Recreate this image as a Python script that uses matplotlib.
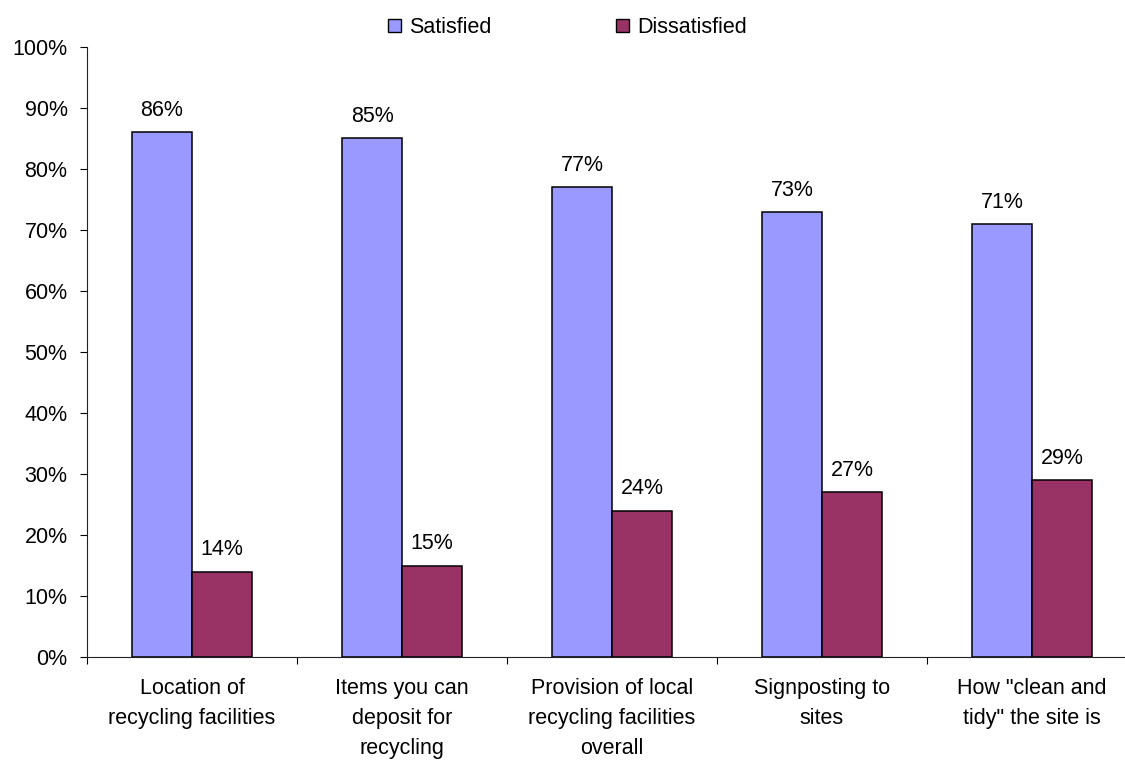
import matplotlib
matplotlib.use("Agg")
import matplotlib.pyplot as plt
from matplotlib.patches import Patch
from matplotlib.ticker import PercentFormatter, FixedLocator

plt.rcParams["font.family"] = ["Liberation Sans", "DejaVu Sans"]
FS = 15.5
plt.rcParams["font.size"] = FS

categories = [
    "Location of\nrecycling facilities",
    "Items you can\ndeposit for\nrecycling",
    "Provision of local\nrecycling facilities\noverall",
    "Signposting to\nsites",
    "How \"clean and\ntidy\" the site is",
]
satisfied = [86, 85, 77, 73, 71]
dissatisfied = [14, 15, 24, 27, 29]
series_names = ["Satisfied", "Dissatisfied"]
colors = ["#9999FF", "#993366"]

W, H = 1125, 760
fig = plt.figure(figsize=(W / 100, H / 100), dpi=100)
ax = fig.add_axes([87 / W, 1 - 657 / H, 1050 / W, (657 - 47) / H])

bw = 0.2857
x = range(len(categories))
for offset, vals, col in ((-bw / 2, satisfied, colors[0]), (bw / 2, dissatisfied, colors[1])):
    xs = [i + offset for i in x]
    ax.bar(xs, vals, width=bw, color=col, edgecolor="black", linewidth=1.1)
    for xi, v in zip(xs, vals):
        ax.annotate(f"{v}%", (xi, v), xytext=(0, 8), textcoords="offset points",
                    ha="center", va="bottom", fontsize=FS)

ax.set_xlim(-0.5, len(categories) - 0.5)
ax.set_ylim(0, 100)
ax.yaxis.set_major_locator(FixedLocator(range(0, 101, 10)))
ax.yaxis.set_major_formatter(PercentFormatter(100, decimals=0))
ax.tick_params(axis="y", direction="out", length=5, width=0.8, pad=9, labelsize=FS)

ax.set_xticks([i - 0.5 for i in range(len(categories) + 1)])
ax.set_xticklabels([])
ax.tick_params(axis="x", which="major", direction="out", length=5, width=0.8)
ax.set_xticks(list(x), minor=True)
ax.set_xticklabels(categories, minor=True, fontsize=FS, linespacing=1.58)
ax.tick_params(axis="x", which="minor", length=0, pad=15)

for side in ("top", "right"):
    ax.spines[side].set_visible(False)
for side in ("left", "bottom"):
    ax.spines[side].set_linewidth(0.8)
    ax.spines[side].set_color("#222222")

handles = [Patch(facecolor=c, edgecolor="black", linewidth=1.0) for c in colors]
fig.legend(handles, series_names, loc="upper left",
           bbox_to_anchor=(388 / W, 1 - 17 / H), ncol=2, frameon=False,
           handlelength=0.6, handleheight=0.6, handletextpad=0.4,
           columnspacing=5.75, borderpad=0, borderaxespad=0, fontsize=FS)

fig.savefig("out.png", dpi=100)
